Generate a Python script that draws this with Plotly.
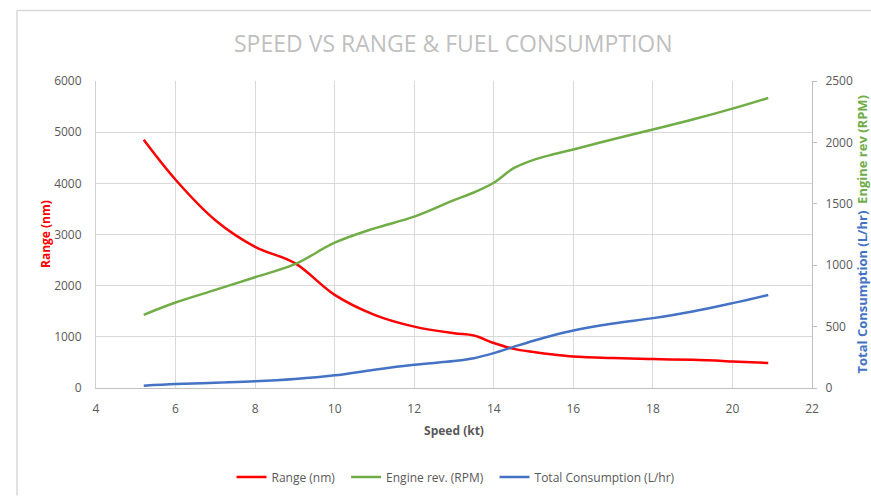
import plotly.graph_objects as go

speed = [5.2, 6, 7, 8, 9, 10, 11, 12, 13, 13.5, 14, 14.5, 15, 15.5, 16, 17, 18, 19, 20, 20.9]
range_nm = [4850, 4070, 3280, 2760, 2440, 1820, 1430, 1200, 1070, 1025, 880, 765, 705, 655, 617, 585, 565, 550, 520, 488]
engine_rpm = [596, 696, 799, 902, 1008, 1183, 1300, 1395, 1530, 1592, 1671, 1790, 1858, 1903, 1942, 2026, 2105, 2186, 2275, 2362]
consumption = [19, 32, 43, 54, 73, 103, 149, 189, 220, 243, 284, 335, 385, 430, 468, 525, 569, 623, 691, 758]

x_ticks = [4, 6, 8, 10, 12, 14, 16, 18, 20, 22]
left_ticks = [0, 1000, 2000, 3000, 4000, 5000, 6000]
right_ticks = [0, 500, 1000, 1500, 2000, 2500]

RED = "#FF0000"
GREEN = "#70AD47"
BLUE = "#4472C4"
TXT = "#595959"
GRID = "#D9D9D9"
FONT = "Open Sans, Liberation Sans, sans-serif"
NB = "\u00a0\u00a0"

FW, FH = 871, 496
L, R, T, B = 96, 812, 80.7, 388.3   # plot area in pixels
W_PA, H_PA = R - L, B - T


def px(xp):
    return (xp - L) / W_PA


def py(yp):
    return (B - yp) / H_PA


fig = go.Figure()
fig.add_trace(go.Scatter(x=speed, y=range_nm, name="Range (nm)" + NB, mode="lines",
                         line=dict(color=RED, width=2.5, shape="spline", smoothing=1.0)))
fig.add_trace(go.Scatter(x=speed, y=engine_rpm, name="Engine rev. (RPM)" + NB, mode="lines", yaxis="y2",
                         line=dict(color=GREEN, width=2.5, shape="spline", smoothing=1.0)))
fig.add_trace(go.Scatter(x=speed, y=consumption, name="Total Consumption (L/hr)", mode="lines", yaxis="y2",
                         line=dict(color=BLUE, width=2.5, shape="spline", smoothing=1.0)))

fig.update_layout(
    width=FW, height=FH,
    margin=dict(l=L, r=FW - R, t=T, b=FH - B, autoexpand=False),
    paper_bgcolor="white", plot_bgcolor="white",
    font=dict(family=FONT, size=12, color=TXT),
    showlegend=True,
    legend=dict(orientation="h", xref="container", yref="container",
                x=456 / FW, xanchor="center",
                y=1 - 477 / FH, yanchor="middle",
                font=dict(size=12, color=TXT), itemwidth=30, tracegroupgap=0),
    xaxis=dict(range=[4, 22], tickvals=x_ticks, showgrid=True, gridcolor=GRID, gridwidth=1,
               showline=True, linecolor="#BFBFBF", linewidth=1, zeroline=False,
               ticks="", tickfont=dict(size=12, color=TXT), ticklabelstandoff=10,
               title=dict(text="<b>Speed (kt)</b>", font=dict(size=12, color=TXT), standoff=10)),
    yaxis=dict(range=[0, 6000], tickvals=left_ticks, showgrid=True, gridcolor=GRID, gridwidth=1,
               showline=True, linecolor="#D0D0D0", linewidth=1, zeroline=False, ticks="",
               tickfont=dict(size=12, color=TXT), ticklabelstandoff=11),
    yaxis2=dict(range=[0, 2500], tickvals=right_ticks, overlaying="y", side="right", showgrid=False,
                showline=True, linecolor="#BFBFBF", linewidth=1, zeroline=False,
                ticks="outside", ticklen=4, tickcolor="#BFBFBF", ticklabelstandoff=6,
                tickfont=dict(size=12, color=TXT)),
    annotations=[
        dict(text="SPEED VS RANGE & FUEL CONSUMPTION", xref="paper", yref="paper",
             x=px(453), y=py(43), xanchor="center", yanchor="middle",
             showarrow=False, font=dict(size=23, color="#BFBFBF", family=FONT)),
        dict(text="<b>Range (nm)</b>", xref="paper", yref="paper",
             x=px(45), y=py(234), xanchor="center", yanchor="middle",
             textangle=-90, showarrow=False, font=dict(size=12, color=RED, family=FONT)),
        dict(text=f"<b><span style='color:{BLUE}'>Total Consumption (L/hr)</span>  "
                  f"<span style='color:{GREEN}'>Engine rev (RPM)</span></b>",
             xref="paper", yref="paper",
             x=px(861), y=py(234.5), xanchor="center", yanchor="middle",
             textangle=-90, showarrow=False, font=dict(size=13, family=FONT)),
    ],
    shapes=[
        dict(type="line", xref="paper", yref="paper",
             x0=px(17), x1=px(871), y0=py(10), y1=py(10),
             line=dict(color="#D9D9D9", width=1.5), layer="above"),
        dict(type="line", xref="paper", yref="paper",
             x0=px(17), x1=px(17), y0=py(496), y1=py(10),
             line=dict(color="#D9D9D9", width=1.5), layer="above"),
    ],
)

# remove the default page margin so the figure sits at the window's top-left corner
page_js = ("document.documentElement.style.overflow='hidden';"
           "document.body.style.margin='0';document.body.style.overflow='hidden';")
fig.write_html("out.html", post_script=page_js, config={"displayModeBar": False})
